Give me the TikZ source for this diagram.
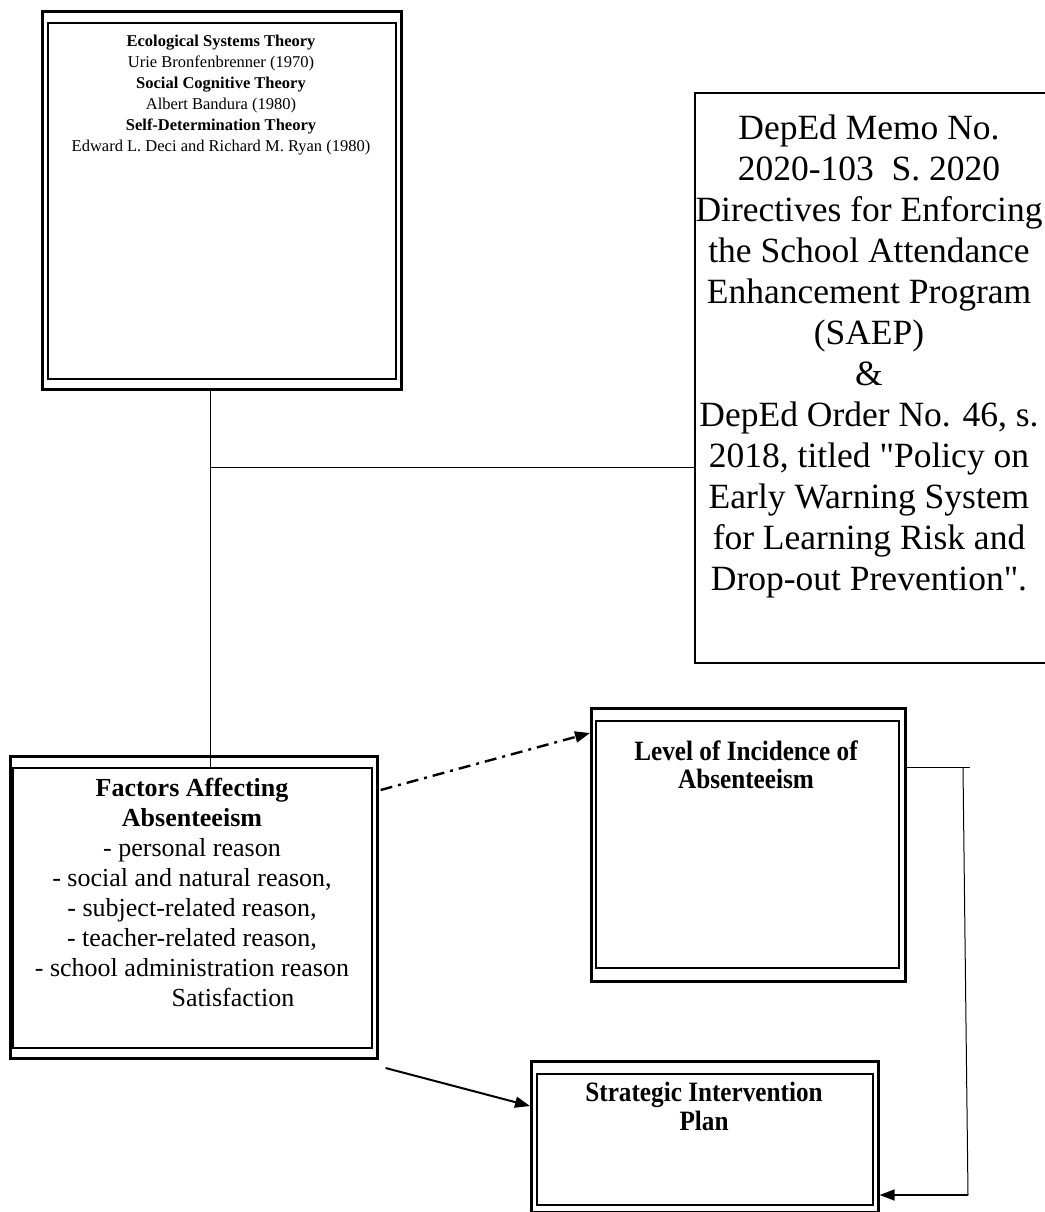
\documentclass[tikz,border=0pt]{standalone}
\usepackage{fontspec}
\setmainfont{Liberation Serif}
\newfontfamily\plainfont{Liberation Serif}
\newfontfamily\condfont[FakeStretch=0.9]{Liberation Serif}
\usetikzlibrary{arrows.meta,calc}

\begin{document}
\begin{tikzpicture}[x=1pt,y=-1pt,
  outerbox/.style={draw, line width=2.6pt, inner sep=0pt, anchor=north west},
  innerbox/.style={draw, line width=1.8pt, inner sep=0pt, anchor=north west},
  plainbox/.style={draw, line width=2.4pt, inner sep=0pt, anchor=north west},
  conn/.style={line width=1pt},
  txt/.style={align=center, inner sep=0pt, anchor=north},
  arr/.style={line width=2pt, -{Triangle[length=15pt,width=11pt]}},
  dashdotline/.style={line width=2.4pt, dash pattern=on 12pt off 6pt on 3pt off 6pt, -{Triangle[length=15pt,width=11pt]}}
]
\useasboundingbox (0,0) rectangle (1044,1212);

% top-left theory box
\node[outerbox, minimum width=359pt, minimum height=378pt] (topO) at (41,10) {};
\node[innerbox, minimum width=348pt, minimum height=356pt] (topI) at (47,22) {};
\node[txt, font=\fontsize{16.5}{21}\selectfont] (topT) at (221,34.5) {%
\textbf{Ecological Systems Theory}\\
Urie Bronfenbrenner (1970)\\
\textbf{Social Cognitive Theory}\\
Albert Bandura (1980)\\
\textbf{Self-Determination Theory}\\
Edward L. Deci and Richard M. Ryan (1980)};

% right policy box
\node[plainbox, minimum width=360pt, minimum height=570pt] (polB) at (694,92) {};
\node[txt, font=\plainfont\fontsize{35.5}{41}\selectfont] (polT) at (869,115) {%
DepEd Memo No.\\
2020-103\ \ S. 2020\\
Directives for Enforcing\\
the School Attendance\\
Enhancement Program\\
(SAEP)\\
\&\\
DepEd Order No. 46, s.\\
2018, titled "Policy on\\
Early Warning System\\
for Learning Risk and\\
Drop-out Prevention".};

% factors box
\node[outerbox, minimum width=367pt, minimum height=302pt] (facO) at (9,755) {};
\node[innerbox, minimum width=359pt, minimum height=280pt] (facI) at (12,767) {};
\node[txt, font=\fontsize{26}{30}\selectfont] (facT) at (192,778) {%
\textbf{Factors Affecting}\\
\textbf{Absenteeism}\\
- personal reason\\
- social and natural reason,\\
- subject-related reason,\\
- teacher-related reason,\\
- school administration reason\\
\hspace*{82pt}Satisfaction};

% level of incidence box
\node[outerbox, minimum width=314pt, minimum height=273pt] (levO) at (590,707) {};
\node[innerbox, minimum width=303pt, minimum height=247pt] (levI) at (595,720) {};
\node[txt, font=\condfont\bfseries\fontsize{28}{28}\selectfont] (levT) at (746,741) {%
Level of Incidence of\\
Absenteeism};

% strategic intervention plan box
\node[outerbox, minimum width=347pt, minimum height=151pt] (sipO) at (530,1060) {};
\node[innerbox, minimum width=336pt, minimum height=131pt] (sipI) at (536,1073) {};
\node[txt, font=\condfont\bfseries\fontsize{28}{29}\selectfont] (sipT) at (704,1082) {%
Strategic Intervention\\
Plan};

% connectors
\coordinate (j) at (210,467);
\draw[conn] (j |- topO.south) -- (j |- facI.north);
\draw[conn] (j) -- (j -| polB.west);

\draw[dashdotline] ($(facO.north east)+(2,35)$) -- ($(levO.north west)+(0,26)$);
\draw[arr] ($(facO.north east)+(7,313)$) -- ($(sipO.north west)+(0,46)$);

\coordinate (r1) at (970,767);
\coordinate (rb) at (968,1195);
\draw[conn] (levO.east |- r1) -- (r1);
\draw[conn] (963,768) -- (rb);
\draw[arr, line width=1.6pt] (rb) -- (rb -| sipO.east);
\end{tikzpicture}
\end{document}
